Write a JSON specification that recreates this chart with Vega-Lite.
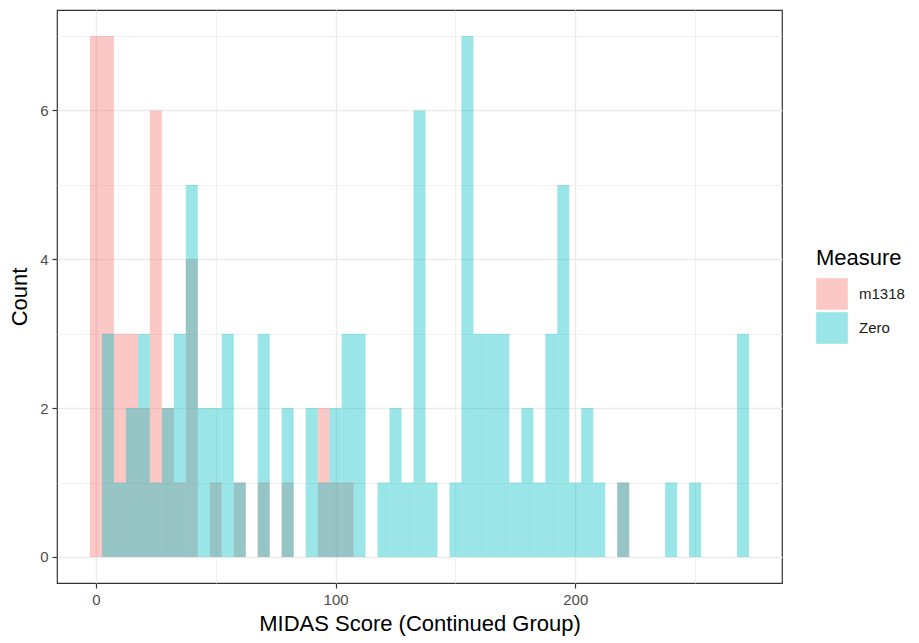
{
  "$schema": "https://vega.github.io/schema/vega-lite/v6.json",
  "width": 725,
  "height": 573,
  "autosize": {"type": "none"},
  "padding": {"left": 57, "top": 10, "right": 137, "bottom": 60},
  "background": "white",
  "config": {
    "font": "Liberation Sans",
    "view": {"stroke": "#333333", "strokeWidth": 1.2}
  },
  "data": {
    "values": [
      {"measure": "m1318", "bin_start": -2.5, "bin_end": 2.5, "count": 7},
      {"measure": "m1318", "bin_start": 2.5, "bin_end": 7.5, "count": 7},
      {"measure": "m1318", "bin_start": 7.5, "bin_end": 12.5, "count": 3},
      {"measure": "m1318", "bin_start": 12.5, "bin_end": 17.5, "count": 3},
      {"measure": "m1318", "bin_start": 17.5, "bin_end": 22.5, "count": 2},
      {"measure": "m1318", "bin_start": 22.5, "bin_end": 27.5, "count": 6},
      {"measure": "m1318", "bin_start": 27.5, "bin_end": 32.5, "count": 2},
      {"measure": "m1318", "bin_start": 32.5, "bin_end": 37.5, "count": 1},
      {"measure": "m1318", "bin_start": 37.5, "bin_end": 42.5, "count": 4},
      {"measure": "m1318", "bin_start": 47.5, "bin_end": 52.5, "count": 1},
      {"measure": "m1318", "bin_start": 57.5, "bin_end": 62.5, "count": 1},
      {"measure": "m1318", "bin_start": 67.5, "bin_end": 72.5, "count": 1},
      {"measure": "m1318", "bin_start": 77.5, "bin_end": 82.5, "count": 1},
      {"measure": "m1318", "bin_start": 92.5, "bin_end": 97.5, "count": 2},
      {"measure": "m1318", "bin_start": 97.5, "bin_end": 102.5, "count": 1},
      {"measure": "m1318", "bin_start": 102.5, "bin_end": 107.5, "count": 1},
      {"measure": "m1318", "bin_start": 217.5, "bin_end": 222.5, "count": 1},
      {"measure": "Zero", "bin_start": 2.5, "bin_end": 7.5, "count": 3},
      {"measure": "Zero", "bin_start": 7.5, "bin_end": 12.5, "count": 1},
      {"measure": "Zero", "bin_start": 12.5, "bin_end": 17.5, "count": 2},
      {"measure": "Zero", "bin_start": 17.5, "bin_end": 22.5, "count": 3},
      {"measure": "Zero", "bin_start": 22.5, "bin_end": 27.5, "count": 1},
      {"measure": "Zero", "bin_start": 27.5, "bin_end": 32.5, "count": 2},
      {"measure": "Zero", "bin_start": 32.5, "bin_end": 37.5, "count": 3},
      {"measure": "Zero", "bin_start": 37.5, "bin_end": 42.5, "count": 5},
      {"measure": "Zero", "bin_start": 42.5, "bin_end": 47.5, "count": 2},
      {"measure": "Zero", "bin_start": 47.5, "bin_end": 52.5, "count": 2},
      {"measure": "Zero", "bin_start": 52.5, "bin_end": 57.5, "count": 3},
      {"measure": "Zero", "bin_start": 57.5, "bin_end": 62.5, "count": 1},
      {"measure": "Zero", "bin_start": 67.5, "bin_end": 72.5, "count": 3},
      {"measure": "Zero", "bin_start": 77.5, "bin_end": 82.5, "count": 2},
      {"measure": "Zero", "bin_start": 87.5, "bin_end": 92.5, "count": 2},
      {"measure": "Zero", "bin_start": 92.5, "bin_end": 97.5, "count": 1},
      {"measure": "Zero", "bin_start": 97.5, "bin_end": 102.5, "count": 2},
      {"measure": "Zero", "bin_start": 102.5, "bin_end": 107.5, "count": 3},
      {"measure": "Zero", "bin_start": 107.5, "bin_end": 112.5, "count": 3},
      {"measure": "Zero", "bin_start": 117.5, "bin_end": 122.5, "count": 1},
      {"measure": "Zero", "bin_start": 122.5, "bin_end": 127.5, "count": 2},
      {"measure": "Zero", "bin_start": 127.5, "bin_end": 132.5, "count": 1},
      {"measure": "Zero", "bin_start": 132.5, "bin_end": 137.5, "count": 6},
      {"measure": "Zero", "bin_start": 137.5, "bin_end": 142.5, "count": 1},
      {"measure": "Zero", "bin_start": 147.5, "bin_end": 152.5, "count": 1},
      {"measure": "Zero", "bin_start": 152.5, "bin_end": 157.5, "count": 7},
      {"measure": "Zero", "bin_start": 157.5, "bin_end": 162.5, "count": 3},
      {"measure": "Zero", "bin_start": 162.5, "bin_end": 167.5, "count": 3},
      {"measure": "Zero", "bin_start": 167.5, "bin_end": 172.5, "count": 3},
      {"measure": "Zero", "bin_start": 172.5, "bin_end": 177.5, "count": 1},
      {"measure": "Zero", "bin_start": 177.5, "bin_end": 182.5, "count": 2},
      {"measure": "Zero", "bin_start": 182.5, "bin_end": 187.5, "count": 1},
      {"measure": "Zero", "bin_start": 187.5, "bin_end": 192.5, "count": 3},
      {"measure": "Zero", "bin_start": 192.5, "bin_end": 197.5, "count": 5},
      {"measure": "Zero", "bin_start": 197.5, "bin_end": 202.5, "count": 1},
      {"measure": "Zero", "bin_start": 202.5, "bin_end": 207.5, "count": 2},
      {"measure": "Zero", "bin_start": 207.5, "bin_end": 212.5, "count": 1},
      {"measure": "Zero", "bin_start": 217.5, "bin_end": 222.5, "count": 1},
      {"measure": "Zero", "bin_start": 237.5, "bin_end": 242.5, "count": 1},
      {"measure": "Zero", "bin_start": 247.5, "bin_end": 252.5, "count": 1},
      {"measure": "Zero", "bin_start": 267.5, "bin_end": 272.5, "count": 3}
    ]
  },
  "mark": {"type": "rect", "opacity": 0.4, "strokeWidth": 0},
  "encoding": {
    "x": {
      "field": "bin_start",
      "type": "quantitative",
      "scale": {"domain": [-16.25, 286.25], "nice": false, "zero": false},
      "axis": {
        "title": "MIDAS Score (Continued Group)",
        "titleFontSize": 22,
        "titleFontWeight": "normal",
        "titleColor": "#000000",
        "titlePadding": 6,
        "values": [0, 50, 100, 150, 200, 250],
        "labelExpr": "datum.value % 100 === 0 ? datum.label : ''",
        "labelFontSize": 15,
        "labelColor": "#4D4D4D",
        "labelPadding": 4,
        "domain": false,
        "tickSize": 5,
        "tickWidth": 1.2,
        "tickColor": {"condition": {"test": "datum.value % 100 === 0", "value": "#333333"}, "value": "transparent"},
        "grid": true,
        "gridColor": "#EBEBEB",
        "gridWidth": {"condition": {"test": "datum.value % 100 === 0", "value": 1.4}, "value": 0.7}
      }
    },
    "x2": {"field": "bin_end"},
    "y": {
      "field": "count",
      "type": "quantitative",
      "scale": {"domain": [-0.35, 7.35], "nice": false, "zero": false},
      "axis": {
        "title": "Count",
        "titleFontSize": 22,
        "titleFontWeight": "normal",
        "titleColor": "#000000",
        "titlePadding": 8,
        "values": [0, 1, 2, 3, 4, 5, 6, 7],
        "labelExpr": "datum.value % 2 === 0 ? datum.label : ''",
        "labelFontSize": 15,
        "labelColor": "#4D4D4D",
        "labelPadding": 4,
        "domain": false,
        "tickSize": 5,
        "tickWidth": 1.2,
        "tickColor": {"condition": {"test": "datum.value % 2 === 0", "value": "#333333"}, "value": "transparent"},
        "grid": true,
        "gridColor": "#EBEBEB",
        "gridWidth": {"condition": {"test": "datum.value % 2 === 0", "value": 1.4}, "value": 0.7}
      }
    },
    "y2": {"datum": 0},
    "color": {
      "field": "measure",
      "type": "nominal",
      "scale": {"domain": ["m1318", "Zero"], "range": ["#F8766D", "#00BFC4"]},
      "legend": {
        "title": "Measure",
        "orient": "none",
        "legendX": 759,
        "legendY": 238,
        "titleFontSize": 22,
        "titleFontWeight": "normal",
        "titleColor": "#000000",
        "titlePadding": 8,
        "labelFontSize": 15,
        "labelColor": "#1A1A1A",
        "labelOffset": 11,
        "symbolType": "square",
        "symbolSize": 1000,
        "symbolOpacity": 0.4,
        "symbolStrokeWidth": 0,
        "rowPadding": 2
      }
    }
  }
}
